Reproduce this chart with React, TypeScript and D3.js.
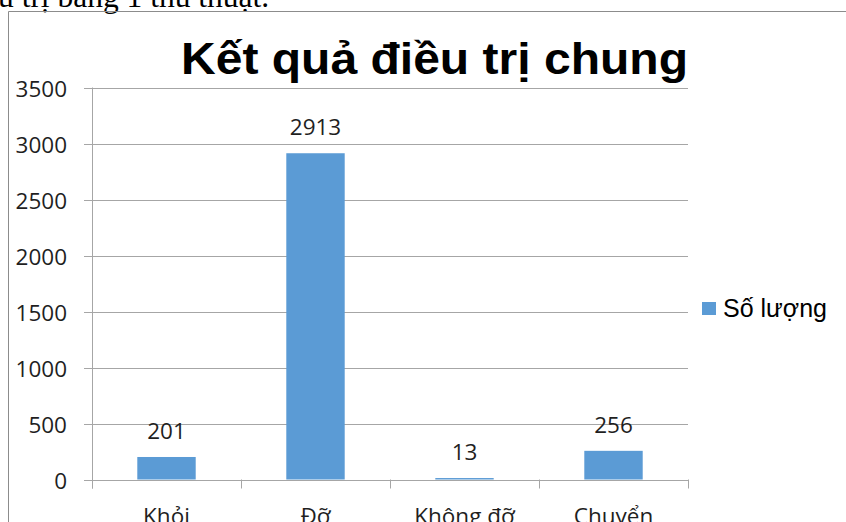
import React from "react";
import * as d3 from "d3";

const categories = ["Khỏi", "Đỡ", "Không đỡ", "Chuyển"];
const counts = [201, 2913, 13, 256];
const yTicks = [0, 500, 1000, 1500, 2000, 2500, 3000, 3500];
const seriesName = "Số lượng";
const title = "Kết quả điều trị chung";

const W = 846;
const H = 522;
const left = 92;
const right = 688;
const top = 87.5;
const bottom = 479.5;

const labelFont = "'Open Sans', 'DejaVu Sans', sans-serif";
const grid = "#a6a6a6";

export default function App() {
  const x = d3
    .scaleBand<string>()
    .domain(categories)
    .range([left, right])
    .paddingInner(0.608)
    .paddingOuter(0.304);
  const y = d3.scaleLinear().domain([0, 3500]).range([bottom, top]);
  const step = x.step();
  const bounds = d3.range(categories.length + 1).map((i) => left + i * step);

  return (
    <svg
      width={W}
      height={H}
      style={{ position: "absolute", left: 0, top: 0, display: "block", background: "#fff" }}
    >
      {/* text of the page above the chart, cut off */}
      <text x={-2} y={7} fontFamily="'Liberation Serif', serif" fontSize={31.5} fill="#000">
        u trị bằng 1 thủ thuật.
      </text>

      {/* chart frame */}
      <path d={`M8.5,${H} V11.5 H${W}`} fill="none" stroke="#8c8c8c" strokeWidth={1} />

      <text
        x={181}
        y={74}
        textLength={507}
        lengthAdjust="spacingAndGlyphs"
        fontFamily="'Liberation Sans', Arial, sans-serif"
        fontWeight="bold"
        fontSize={45}
        fill="#000"
      >
        {title}
      </text>

      {/* grid lines + y ticks */}
      {yTicks.map((t) => (
        <g key={t}>
          <line
            x1={left - 8}
            x2={right}
            y1={Math.round(y(t)) + 0.5}
            y2={Math.round(y(t)) + 0.5}
            stroke={grid}
          />
          <text
            x={67}
            y={y(t) + 9}
            textAnchor="end"
            fontFamily={labelFont}
            fontSize={22.5}
            fill="#1f1f1f"
          >
            {t}
          </text>
        </g>
      ))}

      {/* y axis line */}
      <line x1={left + 0.5} x2={left + 0.5} y1={top} y2={bottom + 9} stroke={grid} />

      {/* x category ticks */}
      {bounds.map((b, i) => (
        <line
          key={i}
          x1={Math.round(b) + 0.5}
          x2={Math.round(b) + 0.5}
          y1={bottom}
          y2={bottom + 9}
          stroke={grid}
        />
      ))}

      {/* bars */}
      {categories.map((c, i) => (
        <rect
          key={c}
          x={x(c)}
          y={y(counts[i])}
          width={x.bandwidth()}
          height={bottom - y(counts[i])}
          fill="#5b9bd5"
        />
      ))}

      {/* data labels */}
      {categories.map((c, i) => (
        <text
          key={c}
          x={(x(c) ?? 0) + x.bandwidth() / 2}
          y={y(counts[i]) - 18}
          textAnchor="middle"
          fontFamily={labelFont}
          fontSize={22.5}
          fill="#1f1f1f"
        >
          {counts[i]}
        </text>
      ))}

      {/* category labels */}
      {categories.map((c) => (
        <text
          key={c}
          x={(x(c) ?? 0) + x.bandwidth() / 2}
          y={524}
          textAnchor="middle"
          fontFamily={labelFont}
          fontSize={22.5}
          fill="#1f1f1f"
        >
          {c}
        </text>
      ))}

      {/* legend */}
      <rect x={702} y={302} width={14} height={13} fill="#5b9bd5" />
      <text
        x={723}
        y={316.5}
        fontFamily="'Liberation Sans', Arial, sans-serif"
        fontSize={25}
        fill="#000"
      >
        {seriesName}
      </text>
    </svg>
  );
}
